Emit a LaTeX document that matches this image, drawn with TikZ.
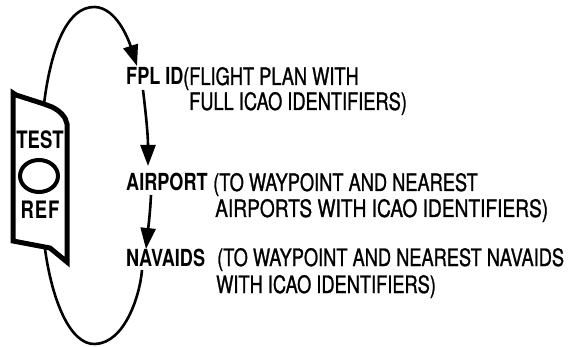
\documentclass[tikz,border=0pt]{standalone}
\usepackage{fontspec}
\setmainfont{TeX Gyre Heros}[FakeStretch=0.77]
\newfontfamily\descfont{TeX Gyre Heros}[FakeStretch=0.76,FakeBold=1]
\usetikzlibrary{arrows.meta}
\begin{document}
\begin{tikzpicture}[x=1pt,y=-1pt,
  loopline/.style={line width=2.6pt},
  tip/.style={-{Triangle[length=21pt,width=15pt]}},
  panelbox/.style={line width=5pt,line join=miter},
  lbl/.style={inner sep=0pt,anchor=base west,font=\fontsize{23.5}{24}\selectfont\bfseries},
  desc/.style={inner sep=0pt,anchor=base west,font=\fontsize{24}{24}\descfont},
  key/.style={inner sep=0pt,anchor=base,font=\fontsize{24}{24}\selectfont\bfseries}]
\useasboundingbox (0,0) rectangle (583,347);
% panel
\draw[panelbox] (13,93) -- (16,95) -- (44,104) -- (52,107)
  .. controls (60,111) and (66,117) .. (67,124) -- (67,262)
  -- (50,248) -- (13,241) -- cycle;
\node[key] (test) at (40,149) {TEST};
\draw[line width=4pt] (39,176) ellipse [x radius=19, y radius=16];
\node[key] (ref) at (40,219) {R\kern1pt E\kern1pt F};
% labels
\node[lbl] (fpl) at (126,85) {FPL ID};
\node[desc] (fpld1) at (183,85) {(FLIGHT PLAN WITH};
\node[desc] (fpld2) at (189,110) {FULL ICAO IDENTIFIERS)};
\node[lbl] (apt) at (126,191) {AIRPORT};
\node[desc] (aptd1) at (213,191) {(TO WAYPOINT AND NEAREST};
\node[desc,xscale=1.05,transform shape] (aptd2) at (215,217) {AIRPORTS WITH ICAO IDENTIFIERS)};
\node[lbl] (nav) at (126,266) {NAVAIDS};
\node[desc] (navd1) at (217,266) {(TO WAYPOINT AND NEAREST NAVAIDS};
\node[desc] (navd2) at (216,293) {WITH ICAO IDENTIFIERS)};
% connector ends
\coordinate (ptop) at (44,104);
\coordinate (pbot) at (45,249);
\coordinate (fplin) at (137,66);
\coordinate (fplout) at (143,90);
\coordinate (aptin) at (148,166);
\coordinate (aptout) at (151,195);
\coordinate (navin) at (146,249);
\coordinate (navout) at (142,270);
% loops
\draw[loopline,tip] (ptop) .. controls (50,55) and (65,6) .. (95,7)
  .. controls (116,8) and (128,38) .. (fplin);
\draw[loopline] (pbot) .. controls (52,300) and (70,345) .. (95,344)
  .. controls (125,343) and (140,295) .. (navout);
\draw[loopline,tip] (fplout) .. controls (146,115) and (148,135) .. (aptin);
\draw[loopline,tip] (aptout) .. controls (150,215) and (148,230) .. (navin);
\end{tikzpicture}
\end{document}
